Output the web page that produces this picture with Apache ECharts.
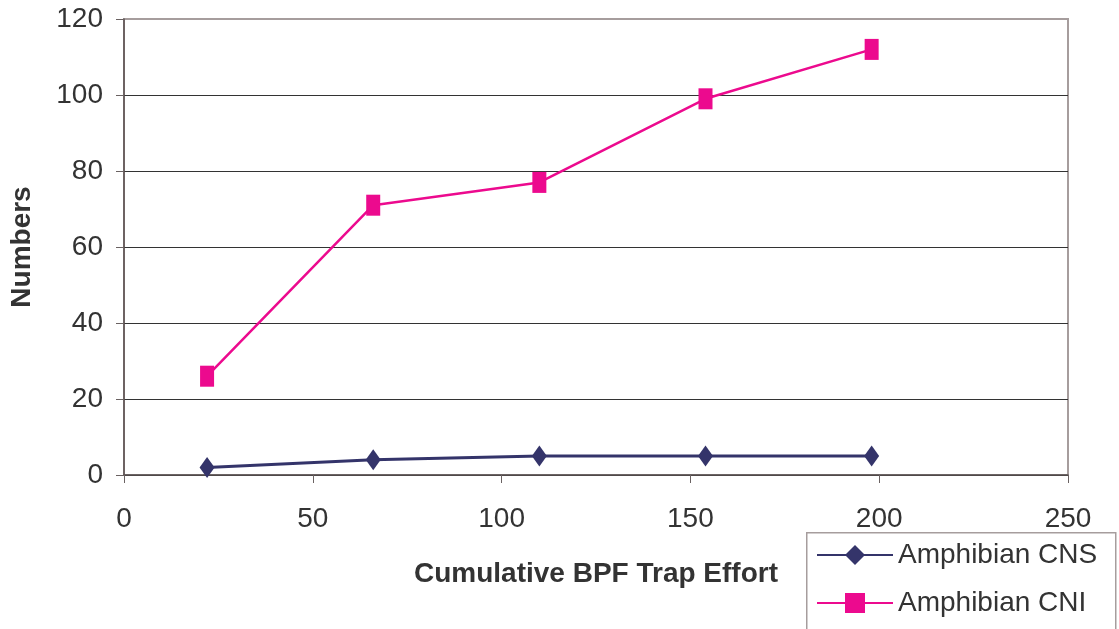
<!DOCTYPE html>
<html>
<head>
<meta charset="utf-8">
<script src="https://cdn.jsdelivr.net/npm/echarts@6/dist/echarts.min.js"></script>
<style>
  html, body { margin: 0; padding: 0; background: #fff; }
  #chart { width: 1119px; height: 629px; }
</style>
</head>
<body>
<div id="chart"></div>
<script>
// Cumulative trap effort (x) and species numbers for each series
const effort = [22, 66, 110, 154, 198];
const cnsValues = [2, 4, 5, 5, 5];
const cniValues = [26, 71, 77, 99, 112];
const xTicks = [0, 50, 100, 150, 200, 250];
const yTicks = [0, 20, 40, 60, 80, 100, 120];

const FONT = '"Liberation Sans", Arial, sans-serif';
const TEXT = '#333333';

function pairs(xs, ys) {
  return xs.map((x, i) => [x, ys[i]]);
}

const chart = echarts.init(document.getElementById('chart'), null, { renderer: 'canvas' });

chart.setOption({
  animation: false,
  backgroundColor: '#ffffff',
  textStyle: { fontFamily: FONT, color: TEXT },
  grid: {
    left: 124, right: 51, top: 19, bottom: 154,
    show: true,
    borderColor: '#a69d9d',
    borderWidth: 2,
    backgroundColor: 'transparent'
  },
  // legend frame runs past the bottom edge of the canvas
  graphic: [{
    type: 'rect',
    left: 806,
    top: 532,
    z: 3,
    shape: { x: 0, y: 0, width: 309, height: 130 },
    style: { fill: '#ffffff', stroke: '#a69d9d', lineWidth: 1.5 }
  }],
  xAxis: {
    type: 'value',
    min: xTicks[0],
    max: xTicks[xTicks.length - 1],
    interval: xTicks[1] - xTicks[0],
    name: 'Cumulative BPF Trap Effort',
    nameLocation: 'middle',
    nameGap: 85,
    nameTextStyle: { fontFamily: FONT, fontSize: 28, fontWeight: 'bold', color: TEXT },
    axisLine: { show: true, onZero: false, lineStyle: { color: '#5a5151', width: 1.5 } },
    axisTick: { show: true, length: 8, lineStyle: { color: '#6a6262', width: 1 } },
    axisLabel: { fontFamily: FONT, fontSize: 28, color: TEXT, margin: 30 },
    splitLine: { show: false }
  },
  yAxis: {
    type: 'value',
    min: yTicks[0],
    max: yTicks[yTicks.length - 1],
    interval: yTicks[1] - yTicks[0],
    name: 'Numbers',
    nameLocation: 'middle',
    nameGap: 88,
    nameRotate: 90,
    nameTextStyle: { fontFamily: FONT, fontSize: 28, fontWeight: 'bold', color: TEXT },
    axisLine: { show: true, lineStyle: { color: '#5a5151', width: 1.5 } },
    axisTick: { show: true, length: 8, lineStyle: { color: '#6a6262', width: 1 } },
    axisLabel: { fontFamily: FONT, fontSize: 28, color: TEXT, margin: 21 },
    splitLine: {
      show: true,
      lineStyle: {
        color: ['#333333', '#333333', '#333333', '#333333', '#333333', '#333333', '#a69d9d'],
        width: 1
      }
    }
  },
  legend: {
    left: 806,
    top: 532,
    z: 5,
    orient: 'vertical',
    itemWidth: 76,
    itemHeight: 25,
    itemGap: 20,
    padding: [9, 14, 0, 10],
    textStyle: { fontFamily: FONT, fontSize: 28, color: TEXT, lineHeight: 28 },
    data: ['Amphibian CNS', 'Amphibian CNI']
  },
  series: [
    {
      name: 'Amphibian CNS',
      type: 'line',
      data: pairs(effort, cnsValues),
      symbol: 'diamond',
      symbolSize: [15, 21],
      lineStyle: { color: '#34346a', width: 3 },
      itemStyle: { color: '#34346a' },
      z: 3
    },
    {
      name: 'Amphibian CNI',
      type: 'line',
      data: pairs(effort, cniValues),
      symbol: 'rect',
      symbolSize: [14, 21],
      lineStyle: { color: '#ec0a8e', width: 2.5 },
      itemStyle: { color: '#ec0a8e' },
      z: 3
    }
  ]
});
</script>
</body>
</html>
